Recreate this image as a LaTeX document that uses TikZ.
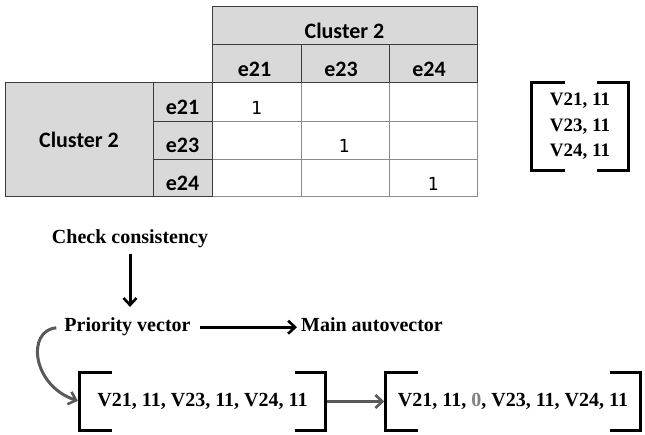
\documentclass[tikz,border=0pt]{standalone}
\usepackage{fontspec}
\setmainfont{Liberation Serif}
\newfontfamily\tabfont{Carlito}
\newfontfamily\numfont{DejaVu Sans Mono}
\usetikzlibrary{arrows.meta}
\definecolor{cellgray}{RGB}{217,217,217}
\definecolor{rulegray}{RGB}{60,60,60}
\definecolor{gridgray}{RGB}{140,140,140}
\definecolor{flowgray}{RGB}{89,89,89}
\definecolor{zerogray}{RGB}{128,128,128}
\begin{document}
\begin{tikzpicture}[x=1pt,y=-1pt,
  hdr/.style={fill=cellgray,draw=rulegray,line width=0.9pt},
  datacell/.style={fill=white,draw=gridgray,line width=0.9pt},
  tlabel/.style={font=\tabfont\bfseries\fontsize{22}{26}\selectfont,anchor=base,inner sep=0pt},
  tnum/.style={font=\numfont\fontsize{18}{22}\selectfont,anchor=base,inner sep=0pt},
  lbl/.style={font=\bfseries\fontsize{20}{24}\selectfont,inner sep=0pt},
  vecbox/.style={lbl,minimum height=57pt,inner sep=0pt},
  brk/.style={line width=3pt,line join=miter,line cap=butt},
  arr/.style={line width=3pt,-{Straight Barb[length=7pt,width=13pt,line width=2.6pt]}},
  garr/.style={arr,draw=flowgray}]
\useasboundingbox (0,0) rectangle (645,435);

% comparison table: white body first, grey headers on top
\foreach \xa/\xb in {212/301,301/389,389/477}
  \foreach \ya/\yb in {82/121,121/159,159/196}
    \draw[datacell] (\xa,\ya) rectangle (\xb,\yb);
\draw[hdr] (212,6) rectangle (477,44);
\foreach \xa/\xb in {212/301,301/389,389/477}
  \draw[hdr] (\xa,44) rectangle (\xb,82);
\draw[hdr] (5,82) rectangle (153,196);
\foreach \ya/\yb in {82/121,121/159,159/196}
  \draw[hdr] (153,\ya) rectangle (212,\yb);

\node[tlabel] (colcl) at (344.5,39) {Cluster 2};
\node[tlabel] (c21) at (254.5,77) {e21};
\node[tlabel] (c23) at (341,77) {e23};
\node[tlabel] (c24) at (429,77) {e24};
\node[tlabel,anchor=center] (rowcl) at (79,140) {Cluster 2};
\node[tlabel] (r21) at (182.5,115) {e21};
\node[tlabel] (r23) at (182.5,153) {e23};
\node[tlabel] (r24) at (182.5,191) {e24};
\node[tnum] (d1) at (256.5,115) {1};
\node[tnum] (d2) at (344,153) {1};
\node[tnum] (d3) at (433,191) {1};

% column vector
\node[lbl,font=\bfseries\fontsize{19}{25.5}\selectfont,align=center,
      minimum width=96pt,minimum height=87pt] (col) at (580,126.5)
  {V21, 11\\V23, 11\\V24, 11};
\draw[brk] ([xshift=33pt]col.north west) -- (col.north west) -- (col.south west) -- ++(33,0);
\draw[brk] ([xshift=-31pt]col.north east) -- (col.north east) -- (col.south east) -- ++(-31,0);

% flow
\node[lbl,anchor=base] (cc) at (130,244) {Check consistency};
\node[lbl,anchor=base] (pv) at (127.5,332) {Priority vector};
\node[lbl,anchor=base] (ma) at (372,332) {Main autovector};

\node[vecbox,minimum width=245pt] (v1) at (202.5,401.5) {V21, 11, V23, 11, V24, 11};
\node[vecbox,minimum width=254pt] (v2) at (513,401.5)
  {V21, 11, {\color{zerogray}0}, V23, 11, V24, 11};
\foreach \v in {v1,v2}{
  \draw[brk] ([xshift=32pt]\v.north west) -- (\v.north west) -- (\v.south west) -- ++(32,0);
  \draw[brk] ([xshift=-30pt]\v.north east) -- (\v.north east) -- (\v.south east) -- ++(-30,0);
}

\draw[arr,shorten <=5pt,shorten >=11pt] (cc.south) -- (cc.south |- pv.north);
\draw[arr,shorten <=9pt,shorten >=4pt] (pv.east) -- (pv.east -| ma.west);
\draw[garr,shorten <=8pt,shorten >=2pt] (pv.west) .. controls +(-38,3) and +(-48,-16) .. (v1.west);
\draw[garr,shorten <=1.5pt,shorten >=1.5pt] (v1.east) -- (v2.west);
\end{tikzpicture}
\end{document}
